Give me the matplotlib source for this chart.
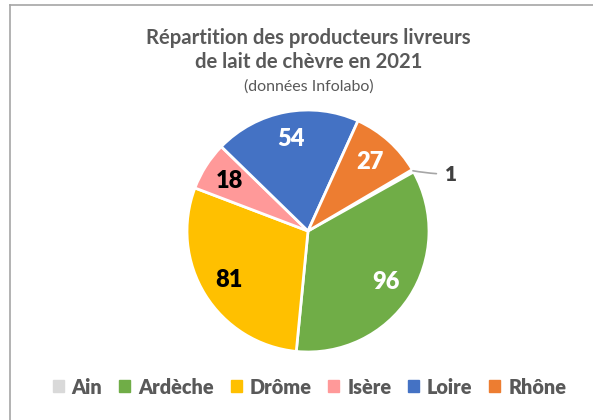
import numpy as np
import matplotlib
matplotlib.use('Agg')
import matplotlib.pyplot as plt
from matplotlib.lines import Line2D

# data
regions = ['Ain', 'Ardèche', 'Drôme', 'Isère', 'Loire', 'Rhône']
producers = [1, 96, 81, 18, 54, 27]
colors = ['#D9D9D9', '#70AD47', '#FFC000', '#FF9999', '#4472C4', '#ED7D31']
label_colors = ['#404040', 'white', 'black', 'black', 'white', 'white']

plt.rcParams['font.family'] = ['Lato', 'DejaVu Sans']
GREY = '#595959'

fig = plt.figure(figsize=(5.93, 4.20), dpi=100)

# chart frame (only top and left edges visible in the crop)
fig.add_artist(Line2D([10/593, 10/593], [0, 1 - 5/420], color='#A6A6A6', lw=1.2))
fig.add_artist(Line2D([10/593, 1], [1 - 5/420, 1 - 5/420], color='#A6A6A6', lw=1.2))

# pie axes: centre at (308, 231) px, radius 121 px
r_px = 121
lim = 1.35
w = 2 * lim * r_px
ax = fig.add_axes([(308 - w/2)/593, (420 - 231 - w/2)/420, w/593, w/420])

wedges, texts = ax.pie(producers, colors=colors, startangle=30.5, counterclock=False,
                       wedgeprops=dict(edgecolor='white', linewidth=2))
ax.set_xlim(-lim, lim)
ax.set_ylim(-lim, lim)
ax.set_aspect('equal')

for i, wdg in enumerate(wedges):
    ang = np.deg2rad((wdg.theta1 + wdg.theta2) / 2)
    if producers[i] < 5:
        x0, y0 = np.cos(ang), np.sin(ang)
        ax.annotate(str(producers[i]), xy=(x0, y0), xytext=(1.13, 0.47),
                    ha='left', va='center', fontsize=15, fontweight='heavy',
                    color=label_colors[i],
                    arrowprops=dict(arrowstyle='-', color='#A6A6A6', lw=1.2,
                                    shrinkA=4, shrinkB=0,
                                    connectionstyle='angle3,angleA=0,angleB=170'))
    else:
        ax.text(0.77 * np.cos(ang), 0.77 * np.sin(ang), str(producers[i]),
                ha='center', va='center', fontsize=17, fontweight='heavy',
                color=label_colors[i])

fig.text(0.52, 1 - 50/420, 'Répartition des producteurs livreurs\nde lait de chèvre en 2021',
         ha='center', va='center', fontsize=14.6, fontweight='bold', color=GREY,
         linespacing=1.28)
fig.text(0.52, 1 - 87/420, '(données Infolabo)', ha='center', va='center',
         fontsize=11.5, color=GREY)

handles = [plt.Rectangle((0, 0), 1, 1, color=c) for c in colors]
leg = fig.legend(handles, regions, loc='center', bbox_to_anchor=(0.522, 1 - 387/420),
                 ncol=6, frameon=False, handlelength=0.55, handleheight=0.55,
                 handletextpad=0.4, columnspacing=0.85,
                 prop=dict(size=14.3, weight='heavy'))
for t in leg.get_texts():
    t.set_color(GREY)

fig.savefig('out.png', dpi=100, facecolor='white')
